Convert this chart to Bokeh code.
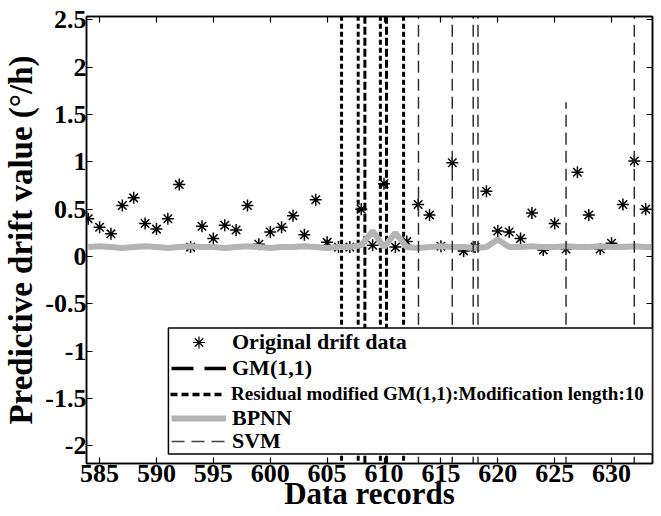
from bokeh.plotting import figure
from bokeh.models import (Range1d, LinearAxis, FixedTicker, Legend, LegendItem,
                          BoxAnnotation)
from bokeh.embed import file_html
from bokeh.resources import INLINE

# ---------------- data ----------------
records = list(range(584, 634))
original = [0.40, 0.31, 0.24, 0.54, 0.62, 0.35, 0.29, 0.40, 0.76, 0.10,
            0.32, 0.19, 0.33, 0.28, 0.54, 0.13, 0.26, 0.31, 0.43, 0.23,
            0.60, 0.15, 0.10, 0.10, 0.50, 0.12, 0.77, 0.10, 0.16, 0.55,
            0.44, 0.11, 0.99, 0.06, 0.10, 0.69, 0.27, 0.26, 0.19, 0.46,
            0.07, 0.35, 0.08, 0.89, 0.44, 0.08, 0.14, 0.55, 1.01, 0.50]

bpnn_records = list(range(584, 635))
bpnn = [0.10, 0.11, 0.10, 0.09, 0.10, 0.11, 0.10, 0.09, 0.10, 0.11,
        0.10, 0.10, 0.09, 0.10, 0.11, 0.10, 0.09, 0.10, 0.10, 0.11,
        0.10, 0.09, 0.10, 0.10, 0.12, 0.27, 0.10, 0.25, 0.10, 0.09,
        0.10, 0.11, 0.10, 0.10, 0.09, 0.10, 0.18, 0.10, 0.10, 0.11,
        0.10, 0.10, 0.11, 0.10, 0.10, 0.11, 0.10, 0.10, 0.11, 0.10,
        0.10]

# positions where the model predictions shoot off the chart
gm_spike_x = [608.32, 610.22]
gm_spike_top = [3.0, 3.0]
res_spike_x = [606.27, 607.73, 609.68, 611.72]
res_spike_top = [3.0, 3.0, 3.0, 3.0]
svm_spike_x = [613.03, 616.0, 617.84, 618.26, 626.0, 632.0]
svm_spike_top = [3.0, 3.0, 3.0, 3.0, 1.63, 3.0]
spike_low = -3.0

x_ticks = [585, 590, 595, 600, 605, 610, 615, 620, 625, 630]
y_ticks = [-2, -1.5, -1, -0.5, 0, 0.5, 1, 1.5, 2, 2.5]
y_tick_labels = ["-2", "-1.5", "-1", "-0.5", "0", "0.5", "1", "1.5", "2", "2.5"]
x_label = "Data records"
y_label = "Predictive drift value (\u00b0/h)"
series_names = ["Original drift data", "GM(1,1)",
                "Residual modified GM(1,1):Modification length:10",
                "BPNN", "SVM"]

X_RANGE = (583.85, 633.6)
Y_RANGE = (-2.185, 2.535)
LEGEND_BOX = dict(left=591.05, top=-0.755, bottom=-2.084)

FONT = "Liberation Serif"
NAN = float("nan")

# ---------------- figure ----------------
p = figure(width=661, height=516,
           x_range=Range1d(*X_RANGE), y_range=Range1d(*Y_RANGE),
           output_backend="svg", toolbar_location=None,
           min_border_left=83, min_border_right=9,
           min_border_top=16, min_border_bottom=53)
p.grid.visible = False
p.outline_line_color = "black"
p.outline_line_width = 1.5
p.background_fill_color = "white"
p.border_fill_color = "white"

def style_axis(ax, labels=True):
    ax.axis_line_color = "black"
    ax.axis_line_width = 1.5
    ax.major_tick_line_color = "black"
    ax.major_tick_line_width = 1.2
    ax.major_tick_in = 6
    ax.major_tick_out = 0
    ax.minor_tick_line_color = None
    ax.major_label_text_font = FONT
    ax.major_label_text_font_style = "bold"
    ax.major_label_text_color = "black"
    if labels:
        ax.major_label_text_font_size = "26px"
    else:
        ax.major_label_text_font_size = "0px"
        ax.major_label_standoff = 0

xa = p.xaxis[0]
xa.ticker = FixedTicker(ticks=x_ticks)
style_axis(xa)
xa.major_label_standoff = 1
xa.axis_label = x_label
xa.axis_label_text_font = FONT
xa.axis_label_text_font_style = "bold"
xa.axis_label_text_font_size = "31px"
xa.axis_label_standoff = -9
xa.axis_label_text_color = "black"

ya = p.yaxis[0]
ya.ticker = FixedTicker(ticks=y_ticks)
ya.major_label_overrides = {t: s for t, s in zip(y_ticks, y_tick_labels)}
style_axis(ya)
ya.major_label_standoff = 0
ya.axis_label = y_label
ya.axis_label_text_font = FONT
ya.axis_label_text_font_style = "bold"
ya.axis_label_text_font_size = "33px"
ya.axis_label_standoff = 3
ya.axis_label_text_color = "black"

top_ax = LinearAxis(ticker=FixedTicker(ticks=x_ticks),
                    major_label_overrides={t: "" for t in x_ticks})
style_axis(top_ax, labels=False)
p.add_layout(top_ax, "above")
right_ax = LinearAxis(ticker=FixedTicker(ticks=y_ticks),
                      major_label_overrides={t: "" for t in y_ticks})
style_axis(right_ax, labels=False)
p.add_layout(right_ax, "right")

# ---------------- data renderers ----------------
stars = p.scatter(records, original, marker="asterisk", size=12,
                  line_color="black", line_width=1.5)
gm = p.segment(x0=gm_spike_x, y0=[spike_low] * len(gm_spike_x),
               x1=gm_spike_x, y1=gm_spike_top,
               line_color="black", line_width=3, line_dash="8 3")
res = p.segment(x0=res_spike_x, y0=[spike_low] * len(res_spike_x),
                x1=res_spike_x, y1=res_spike_top,
                line_color="black", line_width=3, line_dash="5 3")
bp = p.line(bpnn_records, bpnn, line_color="#b4b4b4", line_width=6)
svm = p.segment(x0=svm_spike_x, y0=[spike_low] * len(svm_spike_x),
                x1=svm_spike_x, y1=svm_spike_top,
                line_color="#303030", line_width=1.5, line_dash="12 6")

# legend-only proxies (sample styles as in the legend box); NaN -> not drawn in plot
star_px = p.scatter([NAN], [NAN], marker="asterisk", size=9, line_color="black", line_width=1.2)
gm_px = p.line([NAN, NAN], [NAN, NAN], line_color="black", line_width=3.5, line_dash="22 11")
res_px = p.line([NAN, NAN], [NAN, NAN], line_color="black", line_width=3.5, line_dash="7 4")
bp_px = p.line([NAN, NAN], [NAN, NAN], line_color="#b4b4b4", line_width=6)
svm_px = p.line([NAN, NAN], [NAN, NAN], line_color="#404040", line_width=1.5, line_dash="13 7")

box = BoxAnnotation(left=LEGEND_BOX["left"], right=X_RANGE[1],
                    top=LEGEND_BOX["top"], bottom=LEGEND_BOX["bottom"],
                    fill_color="white", fill_alpha=1.0,
                    line_color="black", line_alpha=1.0, line_width=1.5,
                    level="guide")
p.add_layout(box)

def make_legend(name, renderer, size, bottom, x=85):
    lg = Legend(items=[LegendItem(label=name, renderers=[renderer])],
                location=(x, bottom),
                label_text_font=FONT, label_text_font_style="bold",
                label_text_font_size=size, label_text_color="black",
                glyph_width=55, glyph_height=30, label_standoff=6,
                label_height=30, padding=0, margin=0, spacing=0,
                border_line_alpha=0, background_fill_alpha=0)
    p.add_layout(lg, "center")

make_legend(series_names[0], star_px, "22px", 106)
make_legend(series_names[1], gm_px, "22px", 80)
make_legend(series_names[2], res_px, "19px", 54, x=84)
make_legend(series_names[3], bp_px, "22px", 30)
make_legend(series_names[4], svm_px, "22px", 7)

open("out.html", "w").write(file_html(p, INLINE))
